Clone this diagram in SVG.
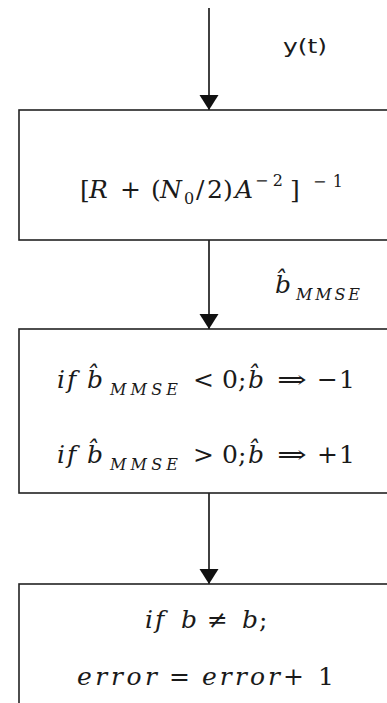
<svg xmlns="http://www.w3.org/2000/svg" width="387" height="703" viewBox="0 0 387 703">
<style>
.box{fill:#fff;stroke:#222;stroke-width:1.6}
.edge{stroke:#111;stroke-width:1.6;fill:none}
.m{font-family:"DejaVu Serif","Liberation Serif",serif;font-size:25px;fill:#1a1a1a}
.i{font-style:italic}
.s{font-size:16px}
.lbl{font-family:"DejaVu Sans","Liberation Sans",sans-serif;font-size:19px;fill:#1a1a1a}
</style>
<defs>
<marker id="arr" markerUnits="userSpaceOnUse" markerWidth="16" markerHeight="20" refX="15" refY="10" orient="auto" viewBox="0 0 16 20">
<path d="M0,0.5 L15,10 L0,19.5 Z" fill="#111"/>
</marker>
</defs>
<rect width="387" height="703" fill="#fff"/>
<g id="connectors">
<line class="edge" x1="209" y1="8" x2="209" y2="110" marker-end="url(#arr)"/>
<line class="edge" x1="209" y1="240" x2="209" y2="329" marker-end="url(#arr)"/>
<line class="edge" x1="209" y1="493" x2="209" y2="584" marker-end="url(#arr)"/>
<text class="lbl" x="283" y="53" textLength="44" lengthAdjust="spacingAndGlyphs">y(t)</text>
<g class="m">
<text class="i" x="275" y="293">b̂</text>
<text class="i s" x="296" y="300" textLength="64" lengthAdjust="spacing">MMSE</text>
</g>
</g>
<g id="node1">
<rect class="box" x="19" y="110" width="400" height="130"/>
<g class="m">
<text x="80" y="198">[</text>
<text class="i" x="89" y="198">R</text>
<text x="120" y="198">+</text>
<text x="151" y="198">(</text>
<text class="i" x="160" y="198">N</text>
<text class="s" x="184" y="204">0</text>
<text x="196" y="198">/</text>
<text x="207" y="198">2</text>
<text x="223" y="198">)</text>
<text class="i" x="235" y="198">A</text>
<text class="s" x="255" y="186" textLength="28" lengthAdjust="spacing">−2</text>
<text x="290" y="198">]</text>
<text class="s" x="313" y="187" textLength="30" lengthAdjust="spacing">−1</text>
</g>
</g>
<g id="node2">
<rect class="box" x="19" y="329" width="400" height="164"/>
<g class="m">
<text class="i" x="57" y="388">i</text>
<text class="i" x="67" y="388">f</text>
<text class="i" x="87" y="388">b̂</text>
<text class="i s" x="110" y="395" textLength="68" lengthAdjust="spacing">MMSE</text>
<text x="193" y="388">&lt;</text>
<text x="222" y="388">0</text>
<text x="238" y="388">;</text>
<text class="i" x="248" y="388">b̂</text>
<text x="277" y="388" textLength="30" lengthAdjust="spacingAndGlyphs">⇒</text>
<text x="317" y="388" textLength="38" lengthAdjust="spacing">−1</text>
<text class="i" x="57" y="463">i</text>
<text class="i" x="67" y="463">f</text>
<text class="i" x="87" y="463">b̂</text>
<text class="i s" x="110" y="470" textLength="68" lengthAdjust="spacing">MMSE</text>
<text x="193" y="463">&gt;</text>
<text x="222" y="463">0</text>
<text x="238" y="463">;</text>
<text class="i" x="248" y="463">b̂</text>
<text x="277" y="463" textLength="30" lengthAdjust="spacingAndGlyphs">⇒</text>
<text x="317" y="463" textLength="38" lengthAdjust="spacing">+1</text>
</g>
</g>
<g id="node3">
<rect class="box" x="19" y="584" width="400" height="140"/>
<g class="m">
<text class="i" x="145" y="628">i</text>
<text class="i" x="155" y="628">f</text>
<text class="i" x="181" y="628">b</text>
<text x="207" y="628">≠</text>
<text class="i" x="242" y="628">b</text>
<text x="259" y="628">;</text>
<text class="i" x="77" y="685" textLength="80" lengthAdjust="spacing">error</text>
<text x="169" y="685">=</text>
<text class="i" x="202" y="685" textLength="78" lengthAdjust="spacing">error</text>
<text x="283" y="685">+</text>
<text x="318" y="685">1</text>
</g>
</g>
</svg>
